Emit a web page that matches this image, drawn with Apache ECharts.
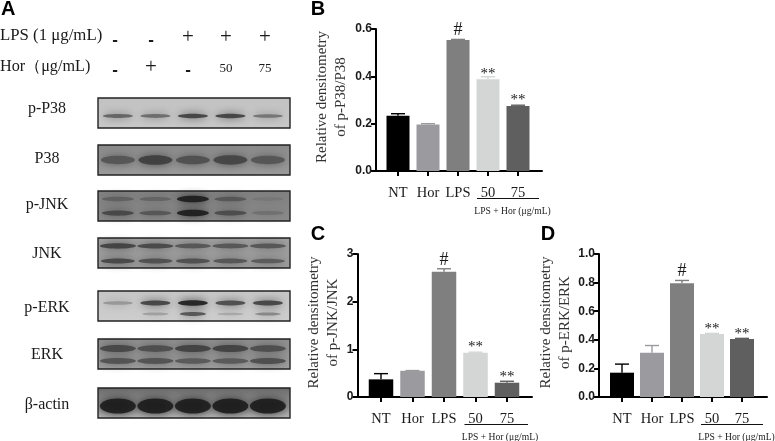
<!DOCTYPE html>
<html><head><meta charset="utf-8">
<style>html,body{margin:0;padding:0;background:#fff}#c{width:775px;height:441px}</style>
<script src="https://cdn.jsdelivr.net/npm/echarts@6/dist/echarts.min.js"></script>
</head><body><div id="c"></div>
<script>
// ---- data ----
const categories = ['NT','Hor','LPS','50','75'];
const barColors = ['#000000','#9b9b9f','#7f7f7f','#d3d6d5','#5f5f5f'];
const marks = ['','','#','**','**'];
const p38Values = [0.233,0.196,0.553,0.388,0.275];
const p38Upper  = [0.242,0.200,0.556,0.398,0.278];
const jnkValues = [0.37,0.55,2.63,0.93,0.30];
const jnkUpper  = [0.49,0.555,2.69,0.94,0.33];
const erkValues = [0.17,0.31,0.795,0.44,0.405];
const erkUpper  = [0.23,0.36,0.815,0.445,0.41];
const lpsRow = ['-','-','+','+','+'];
const horRow = ['-','+','-','50','75'];
// band darkness per lane (0 = none, 1 = black)
const pP38Band   = [0.6,0.55,0.8,0.8,0.5];
const p38Band    = [0.5,0.7,0.55,0.65,0.5];
const pJnkTop    = [0.35,0.3,1,0.45,0.1];
const pJnkBottom = [0.6,0.45,1,0.55,0.18];
const jnkTop     = [0.75,0.7,0.6,0.6,0.6];
const jnkBottom  = [0.7,0.65,0.65,0.6,0.55];
const pErkTop    = [0.3,0.8,1,0.75,0.8];
const pErkBottom = [0,0.25,0.7,0.2,0.4];
const erkTop     = [0.65,0.6,0.7,0.7,0.6];
const erkBottom  = [0.55,0.55,0.5,0.5,0.6];
const actinBand  = [1,1,1,1,1];

// ---- layout / style ----
const SERIF = '"Liberation Serif"', SANS = '"Liberation Sans"';
const panels = [
 {letter:'B',values:p38Values,upper:p38Upper,max:0.6,step:0.2,dec:1,name:'Relative densitometry\nof p-P38/P38',
  axisX:376,right:542,top:29,bottom:171,c0:398,gap:30,bw:23,nameGap:25},
 {letter:'C',values:jnkValues,upper:jnkUpper,max:3,step:1,dec:0,name:'Relative densitometry\nof p-JNK/JNK',
  axisX:357.5,right:532,top:254,bottom:397,c0:381,gap:31.5,bw:24.5,nameGap:11},
 {letter:'D',values:erkValues,upper:erkUpper,max:1,step:0.2,dec:1,name:'Relative densitometry\nof p-ERK/ERK',
  axisX:599,right:767,top:254,bottom:397,c0:622,gap:30,bw:24,nameGap:21}
];
const blots = [
 {label:'p-P38',top:98, bg:['#c2c2c2','#c8c8c8'],tracks:[{at:18,h:2.6,w:15,v:pP38Band}],ly:109},
 {label:'P38',  top:145,bg:['#8a8a8a','#9a9a9a'],tracks:[{at:15,h:6,w:17,v:p38Band}],ly:159},
 {label:'p-JNK',top:191,bg:['#808080','#8a8a8a'],tracks:[{at:8,h:3.5,w:16,v:pJnkTop},{at:22,h:3.5,w:16,v:pJnkBottom}],ly:205},
 {label:'JNK',  top:238,bg:['#a2a2a2','#9a9a9a'],tracks:[{at:8,h:3.2,w:18,v:jnkTop},{at:23,h:3.2,w:17,v:jnkBottom}],ly:254},
 {label:'p-ERK',top:291,bg:['#c6c6c6','#cecece'],tracks:[{at:12,h:3,w:15,v:pErkTop},{at:23,h:2.4,w:13,v:pErkBottom}],ly:308},
 {label:'ERK',  top:339,bg:['#8e8e8e','#a0a0a0'],tracks:[{at:9.5,h:4.5,w:18,v:erkTop},{at:22,h:4,w:18,v:erkBottom}],ly:355},
 {label:'β-actin',top:388,bg:['#6a6a6a','#b4b4b4'],tracks:[{at:18,h:8,w:18,v:actinBand}],ly:405}
];
const blotH = 30, laneLeft = -0.53, laneRight = 4.59;
const lanesPx = [115,151,188,226,265];

const chart = echarts.init(document.getElementById('c'), null, {renderer:'canvas'});
const grids=[],xAxes=[],yAxes=[],series=[],graphic=[];

function txt(x,y,text,size,font,opt){
  graphic.push({type:'text',x,y,silent:true,style:Object.assign({text,fontSize:size,fontFamily:font,fill:'#1a1a1a',
    textAlign:'center',textVerticalAlign:'middle'},opt||{})});
}
panels.forEach((p,i)=>{
  grids.push({left:p.axisX,top:p.top,width:p.right-p.axisX,height:p.bottom-p.top});
  const positions = categories.map((_,k)=>k);
  xAxes.push({gridIndex:i,type:'value',min:(p.axisX-p.c0)/p.gap,max:(p.right-p.c0)/p.gap,
    splitLine:{show:false},
    axisLine:{show:true,onZero:false,lineStyle:{color:'#000',width:2}},
    axisTick:{show:true,length:5,customValues:positions,lineStyle:{color:'#000',width:2}},
    axisLabel:{show:true,customValues:positions,margin:15,fontFamily:SERIF,fontSize:14.5,color:'#1a1a1a',
      formatter:v=>categories[Math.round(v)]}});
  yAxes.push({gridIndex:i,type:'value',min:0,max:p.max,interval:p.step,splitLine:{show:false},
    name:p.name,nameLocation:'middle',nameGap:p.nameGap,nameRotate:90,
    nameTextStyle:{fontFamily:SERIF,fontSize:15,lineHeight:19,color:'#333',padding:[0,0,0,6]},
    axisLine:{show:true,onZero:false,lineStyle:{color:'#000',width:2}},
    axisTick:{show:true,length:5,lineStyle:{color:'#000',width:2}},
    axisLabel:{margin:4,fontFamily:SANS,fontWeight:'bold',fontSize:12,color:'#1a1a1a',
      formatter:v=>v.toFixed(p.dec)}});
  series.push({type:'custom',xAxisIndex:i,yAxisIndex:i,silent:true,z:1,
    data:p.values.map((v,k)=>[k,v,p.upper[k]]),
    renderItem:(params,api)=>{
      const a=api.coord([api.value(0),api.value(1)]), b=api.coord([api.value(0),api.value(2)]);
      const col=barColors[params.dataIndex];
      const st={stroke:col,lineWidth:1.4,fill:null};
      return {type:'group',children:[
        {type:'line',shape:{x1:a[0],y1:a[1],x2:b[0],y2:b[1]},style:st},
        {type:'line',shape:{x1:b[0]-7,y1:b[1],x2:b[0]+7,y2:b[1]},style:st}]};
    }});
  series.push({type:'bar',xAxisIndex:i,yAxisIndex:i,barWidth:p.bw,silent:true,z:2,
    data:p.values.map((v,k)=>({value:[k,v],itemStyle:{color:barColors[k]},
      label:{show:!!marks[k],position:'top',
        distance:marks[k]==='#'?(p.upper[k]-v)/p.max*(p.bottom-p.top):-2,
        formatter:marks[k],fontFamily:SERIF,fontSize:marks[k]==='#'?18:15,color:'#1a1a1a'}}))});
  const cx50=p.c0+3*p.gap, cx75=p.c0+4*p.gap;
  const yLine=p.bottom+27.5;
  graphic.push({type:'line',silent:true,shape:{x1:cx50-11,y1:yLine,x2:cx75+21,y2:yLine},style:{stroke:'#111',lineWidth:1.2}});
  txt(cx50+24.5,p.bottom+40,'LPS + Hor (μg/mL)',9.6,SERIF,{fontWeight:'normal'});
  txt(i===2?548:318,p.top===29?9:234,p.letter,20,SANS,{fontWeight:'bold',fill:'#000'});
});

// western-blot panel, drawn on its own lane/position axes
const bi=panels.length;
const blotTopY=98, blotEndY=419;
grids.push({left:98,top:blotTopY,width:192,height:blotEndY-blotTopY});
xAxes.push({gridIndex:bi,type:'value',show:false,min:laneLeft,max:laneRight});
yAxes.push({gridIndex:bi,type:'value',show:false,inverse:true,min:blotTopY,max:blotEndY});
const lv=c=>parseInt(c.slice(1,3),16);
series.push({type:'custom',xAxisIndex:bi,yAxisIndex:bi,silent:true,z:1,clip:false,
  data:blots.map(b=>[b.top]),
  renderItem:(params,api)=>{
    const t=api.coord([laneLeft,api.value(0)]), e=api.coord([laneRight,api.value(0)+blotH]);
    const b=blots[params.dataIndex];
    return {type:'rect',shape:{x:t[0],y:t[1],width:e[0]-t[0],height:e[1]-t[1]},
      style:{fill:new echarts.graphic.LinearGradient(0,0,0,1,[{offset:0,color:b.bg[0]},{offset:1,color:b.bg[1]}])}};
  }});
blots.forEach(b=>{b.tracks.forEach(tr=>{
  series.push({type:'custom',xAxisIndex:bi,yAxisIndex:bi,silent:true,z:2,clip:true,
    data:tr.v.map((d,k)=>[k,b.top+tr.at,d]),
    renderItem:(params,api)=>{
      const d=api.value(2); if(d<=0) return null;
      const c=api.coord([api.value(0),api.value(1)]);
      const base=lv(b.bg[0]);
      const g=Math.round(base*(1-d)+28*d);
      const col='rgba('+g+','+g+','+g+',0.9)';
      return {type:'ellipse',shape:{cx:c[0],cy:c[1],rx:tr.w,ry:tr.h*(0.45+0.5*d)},
        style:{fill:col,shadowBlur:9,shadowColor:col}};
    }});
});});
series.push({type:'custom',xAxisIndex:bi,yAxisIndex:bi,silent:true,z:3,clip:false,
  data:blots.map(b=>[b.top]),
  renderItem:(params,api)=>{
    const t=api.coord([laneLeft,api.value(0)]), e=api.coord([laneRight,api.value(0)+blotH]);
    return {type:'rect',shape:{x:t[0],y:t[1],width:e[0]-t[0],height:e[1]-t[1]},
      style:{fill:null,stroke:'#222',lineWidth:1.4}};
  }});
blots.forEach(b=>txt(47,b.ly,b.label,16,SERIF));

// treatment header
txt(1,9,'A',20,SANS,{fontWeight:'bold',fill:'#000',textAlign:'left'});
txt(0,36,'LPS (1 μg/mL)',16.8,SERIF,{textAlign:'left'});
txt(0,67,'Hor（μg/mL)',16.2,SERIF,{textAlign:'left'});
function sign(x,y,s){
  if(s==='-') txt(x,y+3,'-',17,SANS,{fontWeight:'bold'});
  else if(s==='+') txt(x,y,'+',21,SERIF);
  else txt(x,y+2,s,13,SERIF);
}
lpsRow.forEach((s,k)=>sign(lanesPx[k],37,s));
horRow.forEach((s,k)=>sign(lanesPx[k],67,s));

chart.setOption({animation:false,backgroundColor:'#fff',textStyle:{fontFamily:SERIF},
  grid:grids,xAxis:xAxes,yAxis:yAxes,series,graphic:{elements:graphic}});
</script></body></html>
